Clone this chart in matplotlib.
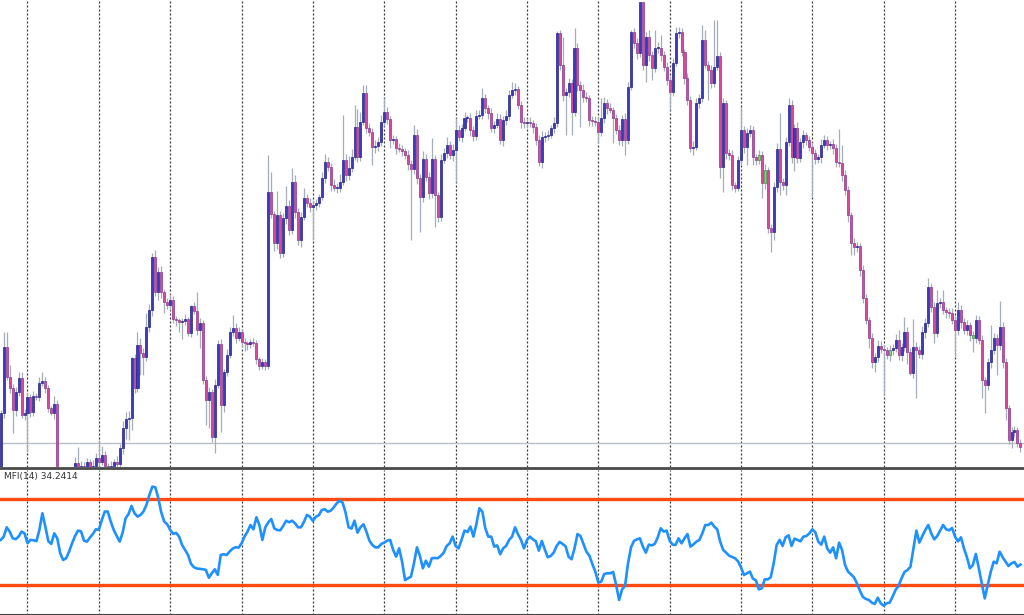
import numpy as np
import matplotlib
matplotlib.use("Agg")
import matplotlib.pyplot as plt
from matplotlib.lines import Line2D

# price closes (chart points), one row per grid interval of 24 bars
closes = [
    57, 123, 93, 82, 60, 78, 92, 55, 57,
    73, 58, 74, 73, 87, 89, 82, 62, 57, 66, -15, -22, -30, -18, -25, -13, 7, -4, 4, -6, 8, 2, 4, 12,
    8, 15, 4, 0, 4, 8, 6, 22, 42, 51, 52, 112, 82, 125, 117, 113, 143, 160, 213, 178, 198, 178, 168, 165,
    170, 151, 150, 148, 149, 151, 137, 164, 159, 140, 147, 90, 70, 78, 33, 85, 126, 65, 98, 115, 138, 142, 132, 138,
    128, 127, 126, 128, 127, 111, 104, 108, 104, 278, 256, 227, 255, 217, 252, 264, 240, 288, 258, 230, 253, 272, 267, 263,
    265, 267, 273, 292, 308, 303, 285, 282, 282, 288, 310, 295, 302, 313, 343, 313, 348, 377, 342, 338, 323, 324, 328, 348,
    358, 351, 330, 331, 322, 321, 319, 315, 306, 301, 335, 292, 273, 311, 293, 277, 311, 275, 253, 310, 317, 325, 315, 320,
    340, 333, 342, 352, 352, 340, 334, 354, 355, 372, 362, 357, 342, 345, 351, 330, 350, 354, 375, 380, 381, 365, 348, 347,
    348, 347, 343, 330, 308, 333, 334, 335, 342, 347, 437, 405, 375, 378, 387, 358, 422, 385, 380, 373, 372, 350, 349, 348,
    338, 352, 367, 362, 360, 352, 340, 330, 351, 330, 383, 438, 427, 417, 468, 405, 433, 415, 402, 422, 422, 415, 403, 390,
    378, 407, 437, 438, 418, 392, 370, 322, 323, 367, 372, 430, 405, 400, 387, 403, 414, 303, 367, 317, 315, 285, 282, 310,
    340, 323, 337, 340, 313, 310, 315, 287, 300, 242, 238, 283, 321, 288, 285, 328, 365, 313, 342, 312, 328, 335, 330, 323,
    317, 311, 313, 325, 330, 325, 326, 322, 308, 307, 295, 280, 255, 227, 223, 224, 200, 172, 150, 132, 108, 113, 124, 121,
    120, 115, 120, 122, 130, 115, 123, 138, 118, 97, 123, 120, 116, 138, 147, 183, 163, 137, 167, 168, 160, 158, 157, 150,
    140, 160, 148, 140, 145, 135, 132, 150, 130, 90, 85, 108, 120, 132, 125, 143, 108, 62, 30, 38, 40, 27, 23,
]
first_open = 2

# wick lengths above / below the body
upper_wick = [
    3, 15, 15, 12, 4, 5, 6, 6, 4,
    4, 3, 5, 3, 6, 9, 4, 3, 2, 8, 4, 5, 4, 6, 3, 5, 6, 16, 5, 4, 4, 3, 6, 5,
    18, 9, 4, 3, 5, 3, 6, 4, 7, 7, 7, 1, 4, 13, 7, 5, 14, 6, 4, 7, 5, 6, 3, 4,
    6, 4, 3, 2, 3, 5, 2, 1, 4, 19, 5, 3, 4, 5, 3, 6, 4, 5, 3, 6, 5, 13, 5, 5,
    3, 4, 2, 3, 4, 3, 2, 4, 3, 37, 20, 3, 24, 4, 5, 20, 6, 14, 7, 4, 5, 10, 4, 5,
    5, 4, 3, 6, 8, 5, 4, 6, 5, 8, 45, 6, 12, 8, 22, 18, 10, 8, 8, 5, 4, 6, 5, 7,
    14, 5, 3, 4, 3, 5, 4, 3, 5, 4, 10, 6, 4, 8, 5, 5, 21, 4, 3, 6, 5, 8, 4, 6,
    12, 5, 4, 6, 3, 5, 4, 6, 5, 10, 4, 3, 5, 4, 6, 5, 4, 6, 5, 8, 6, 3, 4, 5,
    4, 5, 3, 4, 5, 6, 4, 5, 3, 6, 2, 3, 28, 4, 5, 4, 20, 5, 4, 6, 5, 3, 4, 5,
    5, 20, 6, 4, 5, 3, 4, 5, 4, 6, 5, 2, 4, 5, 0, 0, 5, 7, 4, 18, 6, 13, 4, 5,
    4, 5, 6, 5, 4, 3, 5, 4, 6, 5, 4, 15, 10, 4, 5, 47, 36, 4, 5, 3, 4, 5, 3, 4,
    23, 4, 5, 5, 4, 3, 5, 4, 6, 3, 4, 5, 6, 36, 4, 5, 7, 5, 4, 6, 4, 5, 3, 4,
    5, 4, 3, 6, 5, 4, 3, 5, 4, 33, 18, 5, 4, 3, 5, 4, 3, 5, 4, 3, 5, 4, 6, 5,
    4, 3, 5, 4, 6, 10, 4, 15, 5, 4, 28, 5, 4, 6, 5, 9, 4, 5, 13, 4, 12, 3, 4, 5,
    4, 8, 5, 4, 5, 3, 4, 5, 4, 5, 3, 4, 25, 5, 4, 26, 5, 4, 3, 5, 4, 3, 4,
]
lower_wick = [
    2, 5, 3, 5, 23, 6, 4, 3, 5,
    39, 5, 4, 3, 4, 3, 5, 4, 2, 6, 15, 5, 8, 4, 6, 5, 6, 4, 5, 4, 3, 5, 3, 4,
    4, 3, 5, 3, 4, 3, 5, 4, 6, 11, 21, 12, 5, 4, 22, 18, 4, 5, 6, 4, 8, 6, 11, 4,
    5, 4, 6, 10, 17, 4, 3, 4, 3, 5, 18, 4, 25, 28, 5, 16, 3, 27, 7, 4, 3, 4, 5, 3,
    5, 8, 6, 4, 3, 5, 4, 3, 4, 3, 4, 8, 6, 5, 4, 6, 5, 4, 6, 5, 7, 3, 4, 5,
    33, 5, 4, 3, 5, 4, 6, 3, 5, 4, 3, 6, 5, 4, 3, 5, 4, 3, 5, 4, 18, 6, 5, 4,
    4, 5, 8, 4, 6, 3, 5, 4, 6, 71, 5, 6, 35, 5, 4, 6, 5, 32, 5, 4, 3, 5, 4, 6,
    32, 4, 5, 3, 4, 6, 5, 4, 3, 4, 5, 6, 4, 5, 3, 4, 6, 5, 4, 3, 5, 4, 6, 5,
    5, 4, 6, 5, 4, 6, 5, 4, 3, 5, 4, 5, 6, 40, 5, 23, 4, 6, 37, 5, 4, 6, 5, 4,
    11, 4, 5, 6, 3, 25, 4, 5, 6, 15, 4, 3, 5, 6, 4, 5, 17, 6, 12, 4, 5, 6, 4, 5,
    18, 4, 3, 5, 4, 6, 5, 4, 7, 3, 5, 4, 3, 30, 5, 4, 3, 11, 25, 6, 5, 5, 4, 3,
    5, 6, 18, 4, 8, 5, 4, 15, 6, 5, 20, 8, 5, 13, 5, 10, 4, 6, 14, 5, 4, 6, 5, 4,
    44, 5, 4, 6, 3, 5, 4, 6, 5, 4, 6, 5, 7, 12, 8, 5, 6, 5, 4, 10, 6, 10, 5, 4,
    45, 4, 6, 5, 4, 5, 6, 4, 12, 2, 5, 48, 4, 5, 6, 4, 5, 10, 4, 5, 4, 6, 5, 4,
    27, 5, 6, 4, 5, 6, 14, 5, 4, 18, 28, 5, 6, 4, 30, 5, 6, 12, 4, 8, 5, 4, 5,
]
green_bars = [255, 257, 299, 327]

mfi = [
    51.4, 53.7, 60.2, 57.2, 52.6, 51.9, 53.7, 57.2, 56.0,
    49.1, 51.4, 51.2, 50.5, 58.4, 70.0, 60.7, 50.5, 48.6, 56.0, 52.6, 42.1, 37.4, 38.6, 43.3, 49.1, 54.2, 57.9, 57.4, 50.9, 50.2, 53.0, 55.6, 58.8,
    58.4, 65.3, 71.2, 71.2, 64.2, 58.4, 54.2, 50.2, 56.5, 66.5, 69.5, 75.1, 70.0, 67.7, 68.8, 71.2, 75.8, 82.8, 88.6, 88.1, 80.5, 70.5, 64.2, 62.3,
    58.4, 55.6, 56.3, 53.7, 47.9, 44.4, 40.9, 34.7, 32.3, 31.4, 31.2, 30.9, 30.5, 25.0, 28.1, 30.9, 27.0, 40.9, 41.4, 40.9, 43.3, 45.3, 46.3, 46.0,
    49.0, 53.7, 57.2, 61.8, 58.8, 67.2, 61.8, 51.4, 60.2, 63.7, 66.0, 59.5, 58.3, 58.1, 61.1, 64.8, 63.7, 64.8, 63.0, 60.2, 60.2, 64.1, 68.8, 67.6,
    64.6, 67.6, 68.6, 72.3, 72.8, 71.1, 71.8, 74.1, 76.9, 78.8, 77.4, 70.4, 60.2, 59.3, 64.8, 56.5, 60.2, 62.3, 57.2, 50.9, 47.9, 46.2, 46.2, 48.6,
    49.5, 50.9, 51.4, 44.4, 39.7, 45.5, 36.2, 23.4, 24.6, 25.8, 35.1, 46.2, 40.2, 31.6, 36.9, 32.7, 38.6, 38.8, 38.6, 40.2, 42.5, 47.2, 49.0, 53.7,
    47.2, 45.5, 51.4, 57.9, 56.9, 60.7, 53.7, 62.5, 73.5, 71.1, 59.5, 53.7, 53.7, 46.7, 47.6, 41.4, 45.5, 47.2, 51.4, 53.7, 60.2, 55.3, 51.4, 45.5,
    51.4, 53.7, 51.8, 50.4, 43.9, 50.7, 44.8, 39.3, 40.2, 42.5, 47.2, 50.0, 48.6, 46.9, 39.7, 37.9, 45.5, 55.5, 54.1, 48.6, 43.2, 40.4, 34.6, 29.3,
    21.6, 22.3, 27.6, 28.1, 28.1, 29.0, 20.0, 9.5, 16.9, 19.3, 35.1, 46.2, 50.7, 51.8, 52.5, 46.7, 42.5, 48.1, 47.6, 48.6, 53.2, 59.5, 57.2, 57.9,
    50.9, 48.1, 47.9, 52.5, 49.0, 52.5, 55.5, 46.7, 48.3, 50.2, 51.4, 56.0, 61.8, 61.8, 63.5, 60.7, 58.8, 50.2, 44.4, 42.5, 40.4, 39.5, 38.6, 36.5,
    32.3, 26.9, 28.1, 29.3, 24.4, 23.2, 16.9, 17.6, 23.9, 23.9, 25.3, 35.1, 47.9, 51.4, 47.2, 53.2, 54.6, 47.2, 52.3, 51.4, 50.4, 53.7, 54.1, 56.0,
    58.8, 56.7, 50.2, 48.1, 53.7, 45.5, 42.5, 46.2, 38.6, 49.5, 44.4, 33.9, 29.3, 27.4, 25.3, 21.1, 16.0, 11.6, 10.2, 9.5, 7.6, 6.7, 11.1, 7.2,
    5.5, 7.2, 7.6, 11.8, 16.5, 19.3, 24.6, 29.0, 30.4, 32.7, 45.5, 57.9, 49.5, 54.1, 58.3, 61.8, 56.0, 51.8, 54.1, 57.9, 61.8, 58.8, 58.1, 59.7,
    53.7, 50.4, 53.2, 45.5, 39.3, 31.6, 33.9, 41.6, 31.6, 21.1, 10.6, 20.0, 29.0, 36.2, 35.1, 43.2, 39.3, 36.2, 33.2, 35.1, 36.0, 32.7, 34.2,
]
mfi_levels = [20, 80]
mfi_label = "MFI(14) 34.2414"
bid_level = 27
grid_start, grid_step = 9, 24


n = len(closes)
x = np.arange(n)
c = np.array(closes, dtype=float)
o = np.concatenate([[first_open], c[:-1]])
top = np.maximum(o, c)
bot = np.minimum(o, c)
hi = top + np.array(upper_wick)
lo = bot - np.array(lower_wick)

face = np.where(c >= o, '#3b3bc0', '#db469e').astype(object)
edge = np.where(c >= o, '#24248a', '#8c3a8e').astype(object)
for g in green_bars:
    face[g] = '#86d086'
    edge[g] = '#3d8f3d'

fig = plt.figure(figsize=(10.24, 6.15), dpi=100)
fig.patch.set_facecolor('white')
ax = fig.add_axes([0, 0.2407, 1, 0.7593])
ax2 = fig.add_axes([0, 0.0, 1, 0.2358])

xlim = (-0.25, 344.2)
for a in (ax, ax2):
    a.set_xlim(*xlim)
    a.set_xticks([])
    a.set_yticks([])
    for s in a.spines.values():
        s.set_visible(False)
    for k in range(grid_start, n, grid_step):
        a.axvline(k, color='#3a3a3a', lw=0.9, ls=(0, (1.6, 1.6)), zorder=1)

# price panel
ax.set_ylim(3, 470)
ax.axhline(bid_level, color='#b9c0c8', lw=1.0, zorder=1.5)
ax.vlines(x, lo, hi, color='#a5aeb8', lw=0.9, zorder=2)
ax.bar(x, np.maximum(top - bot, 0.8), bottom=bot, width=0.68,
       color=list(face), edgecolor=list(edge), linewidth=0.5, zorder=3)

# MFI panel
ax2.set_ylim(-1.0, 100.2)
for lvl in mfi_levels:
    ax2.axhline(lvl, color='#ff4a10', lw=2.4, zorder=2)
ax2.plot(x, mfi, color='#1e90ff', lw=1.9, zorder=3)
ax2.text(0.004, 0.955, mfi_label, transform=ax2.transAxes, fontsize=6.5,
         color='#333333', va='center', ha='left')
ax2.spines['bottom'].set_visible(True)
ax2.spines['bottom'].set_color('#444444')
ax2.spines['bottom'].set_linewidth(1.5)

# panel separator
fig.add_artist(Line2D([0, 1], [0.2390, 0.2390], color='#4a4a4a', lw=2.0))

fig.savefig('out.png', dpi=100)
